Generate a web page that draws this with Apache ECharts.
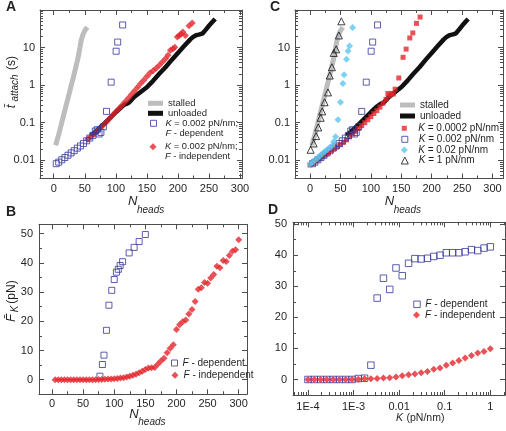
<!DOCTYPE html>
<html>
<head>
<meta charset="utf-8">
<script src="https://cdn.jsdelivr.net/npm/echarts@6.0.0/dist/echarts.min.js"></script>
<style>
html,body{margin:0;padding:0;background:#ffffff;}
#chart{width:506px;height:431px;}
</style>
</head>
<body>
<div id="chart"></div>
<script>
// ================= DATA =================
// Panels A & C : mean attachment time t_attach (s) vs N_heads
const stalledN  = [3, 8, 12, 16, 20, 24, 28, 32, 36, 40, 44, 47, 50, 54];
const stalledT  = [0.025, 0.048, 0.088, 0.16, 0.29, 0.52, 0.95, 1.7, 3.2, 6.2, 15, 22, 28, 35];

const unloadedN = [60, 70, 80, 90, 100, 110, 115, 120, 125, 130, 140, 150, 160, 170, 180, 190, 200, 210, 220, 225, 230, 235, 240, 245, 250, 255, 260];
const unloadedT = [0.045, 0.063, 0.09, 0.13, 0.19, 0.27, 0.31, 0.33, 0.40, 0.49, 0.66, 0.88, 1.3, 2.0, 3.0, 4.7, 7.2, 11, 16.5, 19.5, 21.5, 22.5, 24, 30, 38, 47, 58];

// K = 0.002 pN/nm, F-dependent (A and C)
const depN = [4, 8, 13, 18, 23, 28, 33, 38, 43, 48, 53, 58, 63, 67, 70, 73, 76, 80, 85, 92.5, 100.5, 103, 111];
const depT = [0.0081, 0.0089, 0.0103, 0.0118, 0.0136, 0.0157, 0.018, 0.021, 0.024, 0.028, 0.033, 0.039, 0.046, 0.06, 0.065, 0.05, 0.055, 0.078, 0.2, 1.2, 8, 14, 40];

// K = 0.002 pN/nm, F-independent (A)
const indepN = [55, 60, 65, 70, 75, 80, 85, 90, 95, 100, 105, 110, 115, 120, 125, 130, 135, 140, 145, 150, 155, 160, 165, 170, 175, 180, 184, 188, 192, 195, 199, 202, 205, 208, 212, 218, 223];
const indepT = [0.036, 0.042, 0.05, 0.06, 0.072, 0.087, 0.105, 0.13, 0.16, 0.195, 0.24, 0.29, 0.36, 0.45, 0.56, 0.7, 0.88, 1.1, 1.35, 1.7, 2.1, 2.4, 2.8, 3.4, 4.1, 5.0, 6.2, 8.5, 9.3, 10.2, 19, 21, 23, 26, 21, 38, 45];

// C : K = 0.0002 pN/nm
const k0002N = [0, 3, 6, 9, 12, 15, 18, 21, 24, 27, 30, 35, 40, 45, 50, 55, 60, 65, 70, 75, 80, 85, 90, 95, 100, 105, 110, 115, 120, 125, 128, 131, 134, 137, 140, 146, 153, 158, 164, 169, 175, 181];
const k0002T = [0.0075, 0.0081, 0.0088, 0.0095, 0.0103, 0.011, 0.0119, 0.0128, 0.0138, 0.0149, 0.016, 0.0182, 0.0205, 0.023, 0.026, 0.03, 0.035, 0.042, 0.05, 0.059, 0.07, 0.084, 0.1, 0.12, 0.145, 0.175, 0.21, 0.26, 0.33, 0.42, 0.6, 0.52, 0.6, 0.58, 0.78, 1.55, 5.5, 9.1, 18, 24.5, 44, 65];

// C : K = 0.02 pN/nm
const k002N = [0, 4, 8, 12, 16, 20, 24, 28, 32, 36, 39, 42, 46, 50, 54, 56, 60, 62.5, 65, 70];
const k002T = [0.0078, 0.0088, 0.0100, 0.0114, 0.013, 0.0148, 0.0168, 0.019, 0.0215, 0.0245, 0.031, 0.042, 0.12, 0.35, 1.1, 1.9, 4.9, 8.1, 11, 34];

// C : K = 1 pN/nm
const k1N = [1, 6, 10, 13.5, 17.5, 20, 24, 29.5, 32.5, 36, 39, 43, 47.5, 51.5];
const k1T = [0.019, 0.028, 0.044, 0.075, 0.135, 0.2, 0.35, 0.64, 1.8, 3.0, 7.2, 9.0, 21, 50];

// Panel B : mean force F_K (pN) vs N_heads
const bDepN = [77, 81, 83.5, 87.5, 91.5, 96, 100, 103.5, 106.5, 109.5, 113.5, 124, 132, 140, 150];
const bDepF = [1.2, 5.2, 8.4, 16.9, 25.5, 30.6, 34.3, 36.8, 37.8, 39.1, 40.4, 43.4, 45.3, 47.3, 49.7];

const bIndepN = [5, 10, 15, 20, 25, 30, 35, 40, 45, 50, 55, 60, 65, 70, 75, 80, 85, 90, 95, 100,
                 105, 110, 115, 120, 125, 130, 135, 140, 145, 150, 155, 160, 165, 170, 175, 180, 185, 190, 195, 200,
                 205, 210, 215, 220, 225, 230, 235, 240, 245, 250, 255, 260, 265, 270, 275, 280, 285, 290, 295, 300];
const bIndepF = [0, 0, 0, 0, 0, 0, 0, 0, 0, 0, 0, 0, 0, 0, 0.05, 0.1, 0.15, 0.2, 0.25, 0.35,
                 0.45, 0.55, 0.7, 0.9, 1.2, 1.5, 1.9, 2.4, 2.9, 3.5, 4.0, 4.1, 4.2, 5.3, 6.4, 7.3, 9.2, 10.8, 12.0, 17.2,
                 18.8, 19.8, 20.4, 22.5, 24.0, 26.8, 31.0, 31.5, 33.3, 33.0, 34.8, 36.0, 38.8, 38.3, 40.8, 40.5, 42.5, 44.0, 44.5, 47.9];

// Panel D : mean force vs stiffness K (pN/nm)
const kValues = [1.0e-4, 1.37e-4, 1.89e-4, 2.59e-4, 3.56e-4, 4.89e-4, 6.72e-4, 9.24e-4, 1.27e-3, 1.74e-3,
                 2.40e-3, 3.29e-3, 4.52e-3, 6.21e-3, 8.53e-3, 0.0117, 0.0161, 0.0221, 0.0304, 0.0418,
                 0.0574, 0.0788, 0.108, 0.149, 0.204, 0.281, 0.386, 0.530, 0.728, 1.0];
const dDepF   = [0, 0, 0, 0, 0, 0, 0, 0, 0.3, 0.4, 4.6, 26.2, 32.6, 29.0, 35.9, 33.4, 37.4, 38.9, 38.8, 39.0,
                 39.6, 40.0, 40.8, 40.8, 40.8, 41.1, 41.8, 41.5, 42.3, 42.7];
const dIndepF = [0, 0, 0, 0, 0, 0, 0, 0, 0.1, 0.2, 0.25, 0.3, 0.5, 0.55, 0.8, 1.2, 1.5, 1.8, 2.2, 2.6,
                 3.3, 3.7, 4.6, 5.3, 6.1, 6.9, 7.7, 8.5, 9.0, 9.9];

// Tick values / labels
const nLabels = [0, 50, 100, 150, 200, 250, 300];
const nMinor  = [25, 75, 125, 175, 225, 275];
const fLabels = [0, 10, 20, 30, 40, 50];
const fMinor  = [5, 15, 25, 35, 45];
const tLabels = [0.01, 0.1, 1, 10];
const kLabels = [1e-4, 1e-3, 0.01, 0.1, 1];

// ================= STYLE =================
const FONT = '"Liberation Sans", Arial, Helvetica, sans-serif';
const TXT = '#231f20';
const AXC = '#4d4d4d';
const GRAY = '#bdbdbd';
const BLACK = '#111111';
const BLUE = '#36369a';
const RED = '#e3262c';
const CYAN = '#5cc5ee';
const HOLLOW = 'rgba(255,255,255,0)';

function zip(a, b) { return a.map((v, i) => [v, b[i]]); }
function decadeMinors(lo, hi) {
  const out = [];
  for (let e = lo; e <= hi; e++) for (let m = 2; m <= 9; m++) out.push(+(m * Math.pow(10, e)).toPrecision(3));
  return out;
}
const numFmt = v => String(+Number(v).toPrecision(3));
const kFmt = v => (v < 0.005 ? '1E' + Math.round(Math.log10(v)) : String(+Number(v).toPrecision(3)));

function makeAxes(dim, grid, type, min, max, majors, minors, labels, fmt, margin) {
  const pos = dim === 'x' ? ['bottom', 'top'] : ['left', 'right'];
  const mk = (p, ticks, len, line, lab) => {
    const a = {
      type: type, gridIndex: grid, min: min, max: max, position: p, silent: true,
      splitLine: { show: false },
      axisLine: { show: line, onZero: false, lineStyle: { color: AXC, width: 1 } },
      axisTick: { show: true, inside: true, length: len, customValues: ticks, lineStyle: { color: AXC, width: 1 } },
      axisLabel: lab ? { show: true, customValues: labels, formatter: fmt, margin: margin, fontSize: 11, color: TXT, fontFamily: FONT } : { show: false }
    };
    if (type === 'log') a.logBase = 10;
    return a;
  };
  return [mk(pos[0], majors, 5, true, true), mk(pos[1], majors, 5, true, false),
          mk(pos[0], minors, 3, false, false), mk(pos[1], minors, 3, false, false)];
}

const tMinor = decadeMinors(-3, 1);
const kMinor = decadeMinors(-5, 0);

const xAxis = [].concat(
  makeAxes('x', 0, 'value', -22.1, 303.2, nLabels, nMinor, nLabels, numFmt, 5),
  makeAxes('x', 1, 'value', -20.9, 313.4, nLabels, nMinor, nLabels, numFmt, 4),
  makeAxes('x', 2, 'value', -24.7, 317.3, nLabels, nMinor, nLabels, numFmt, 5),
  makeAxes('x', 3, 'log', 4.69e-5, 2.10, kLabels, kMinor, kLabels, kFmt, 6)
);
const yAxis = [].concat(
  makeAxes('y', 0, 'log', 0.00327, 100, tLabels, tMinor, tLabels, numFmt, 5),
  makeAxes('y', 1, 'value', -5, 53.2, fLabels, fMinor, fLabels, numFmt, 6),
  makeAxes('y', 2, 'log', 0.00327, 100, tLabels, tMinor, tLabels, numFmt, 5),
  makeAxes('y', 3, 'value', -5, 50.6, fLabels, fMinor, fLabels, numFmt, 6)
);

const grid = [
  { left: 40, top: 10, width: 202, height: 168.5 },
  { left: 39, top: 224.3, width: 208, height: 170 },
  { left: 295, top: 10, width: 208, height: 168.5 },
  { left: 293, top: 222.3, width: 212, height: 172.7 }
];

function onGrid(g) { return { xAxisIndex: g * 4, yAxisIndex: g * 4 }; }
function lineSeries(name, g, xs, ys, color, width, z) {
  return Object.assign({ name: name, type: 'line', data: zip(xs, ys), symbol: 'none', showSymbol: false,
    lineStyle: { color: color, width: width, cap: 'butt', join: 'round' }, itemStyle: { color: color }, z: z, silent: true }, onGrid(g));
}
function scatterSeries(name, g, xs, ys, symbol, size, style, z) {
  return Object.assign({ name: name, type: 'scatter', data: zip(xs, ys), symbol: symbol, symbolSize: size,
    itemStyle: style, z: z, silent: true }, onGrid(g));
}
const hollow = c => ({ color: HOLLOW, borderColor: c, borderWidth: 1 });
const filled = c => ({ color: c, borderWidth: 0 });

const series = [
  // A
  lineSeries('A-stalled', 0, stalledN, stalledT, GRAY, 5, 2),
  lineSeries('A-unloaded', 0, unloadedN, unloadedT, BLACK, 4.5, 2),
  scatterSeries('A-indep', 0, indepN, indepT, 'diamond', 7, filled(RED), 3),
  scatterSeries('A-dep', 0, depN, depT, 'rect', 6, hollow(BLUE), 4),
  // B
  scatterSeries('B-dep', 1, bDepN, bDepF, 'rect', 6, hollow(BLUE), 3),
  scatterSeries('B-indep', 1, bIndepN, bIndepF, 'diamond', 7, filled(RED), 4),
  // C
  lineSeries('C-stalled', 2, stalledN, stalledT, GRAY, 5, 2),
  lineSeries('C-unloaded', 2, unloadedN, unloadedT, BLACK, 4.5, 2),
  scatterSeries('C-k0002', 2, k0002N, k0002T, 'rect', 5, filled(RED), 3),
  scatterSeries('C-dep', 2, depN, depT, 'rect', 6, hollow(BLUE), 4),
  scatterSeries('C-k002', 2, k002N, k002T, 'diamond', 7, filled(CYAN), 5),
  scatterSeries('C-k1', 2, k1N, k1T, 'triangle', 7, hollow(BLACK), 6),
  // D
  scatterSeries('D-dep', 3, kValues, dDepF, 'rect', 6.5, hollow(BLUE), 3),
  scatterSeries('D-indep', 3, kValues, dIndepF, 'diamond', 7, filled(RED), 4)
];

// ================= LEGENDS =================
const LABELS = {
  'A-stalled': 'stalled',
  'A-unloaded': 'unloaded',
  'A-dep': '\n{i|K} = 0.002 pN/nm;\n{i|F} - dependent',
  'A-indep': '\n{i|K} = 0.002 pN/nm;\n{i|F} - independent',
  'C-stalled': 'stalled',
  'C-unloaded': 'unloaded',
  'C-k0002': '{i|K} = 0.0002 pN/nm',
  'C-dep': '{i|K} = 0.002 pN/nm',
  'C-k002': '{i|K} = 0.02 pN/nm',
  'C-k1': '{i|K} = 1 pN/nm',
  'B-dep': '{i|F} - dependent',
  'B-indep': '{i|F} - independent',
  'D-dep': '{i|F} - dependent',
  'D-indep': '{i|F} - independent'
};
const LH = 10;
function leg(name, left, cy, iw, ih, padLeft, lines, icon, bw, fs) {
  fs = fs || 10;
  const blockH = lines * LH;
  const top = cy - Math.max(ih, blockH) / 2;
  const d = icon ? { name: name, icon: icon } : { name: name };
  return {
    data: [d], left: left, top: top, orient: 'vertical', padding: 0, itemGap: 0,
    itemWidth: iw, itemHeight: ih, selectedMode: false,
    itemStyle: { borderWidth: bw },
    formatter: n => LABELS[n],
    textStyle: { fontSize: fs, color: TXT, fontFamily: FONT, lineHeight: LH, padding: [0, 0, 0, padLeft],
      rich: { i: { fontStyle: 'italic', fontSize: fs, color: TXT, fontFamily: FONT, lineHeight: LH } } }
  };
}
const legend = [
  leg('A-stalled', 148, 103.3, 15, 5, 0, 1, 'rect', 0, 9.5),
  leg('A-unloaded', 148, 113.3, 15, 5, 0, 1, 'rect', 0, 9.5),
  leg('A-dep', 150, 123.3, 6, 6, 4, 3, null, 1, 9.3),
  leg('A-indep', 149.5, 146.7, 7, 7, 3.5, 3, null, 0, 9.3),
  leg('C-stalled', 400, 105, 15, 5, 0, 1, 'rect', 0),
  leg('C-unloaded', 400, 116, 15, 5, 0, 1, 'rect', 0),
  leg('C-k0002', 401.8, 128.3, 5, 5, 6.5, 1, null, 0),
  leg('C-dep', 401.3, 139.3, 6, 6, 6, 1, null, 1),
  leg('C-k002', 400.8, 150, 7, 7, 5.5, 1, null, 0),
  leg('C-k1', 400.8, 160.5, 7, 7, 5.5, 1, null, 1),
  leg('B-dep', 171, 363, 6, 6, 0, 1, null, 1),
  leg('B-indep', 171.5, 375.3, 7, 7, 0, 1, null, 0),
  leg('D-dep', 413.25, 304.3, 6.5, 6.5, 0, 1, null, 1),
  leg('D-indep', 413, 315, 7, 7, 0, 1, null, 0)
];

// ================= TEXT (panel letters, axis titles) =================
function txt(text, x, y, size, o) {
  o = o || {};
  const font = (o.italic ? 'italic ' : '') + (o.bold ? 'bold ' : '') + size + 'px ' + FONT;
  return { type: 'text', x: x, y: y, rotation: o.rot || 0, silent: true, z: 100,
    style: { text: text, fill: TXT, font: font, align: o.align || 'left', verticalAlign: 'middle',
             textAlign: o.align || 'left', textVerticalAlign: 'middle' } };
}
const ROT = Math.PI / 2;
const graphic = [
  txt('A', 6, 7, 14, { bold: true }),
  txt('B', 6, 212, 14, { bold: true }),
  txt('C', 270, 7.5, 14, { bold: true }),
  txt('D', 268, 210, 14, { bold: true }),
  // A x title
  txt('N', 128, 201.5, 13, { italic: true }),
  txt('heads', 137, 210, 10, { italic: true }),
  // C x title
  txt('N', 384.7, 201.5, 13, { italic: true }),
  txt('heads', 393.7, 210, 10, { italic: true }),
  // B x title
  txt('N', 129.3, 414, 13, { italic: true }),
  txt('heads', 138.3, 422.5, 10, { italic: true }),
  // D x title
  txt('K', 396, 417.7, 10.5, { italic: true }),
  txt('(pN/nm)', 406.5, 417.7, 10.5, {}),
  // A y title
  txt('t\u0304', 11, 106.5, 13, { italic: true, rot: ROT, align: 'center' }),
  txt('attach', 15.5, 88, 10, { italic: true, rot: ROT, align: 'center' }),
  txt('(s)', 11.5, 63, 12, { rot: ROT, align: 'center' }),
  // B y title
  txt('F\u0304', 11, 318, 13, { italic: true, rot: ROT, align: 'center' }),
  txt('K', 15.5, 309, 10, { italic: true, rot: ROT, align: 'center' }),
  txt('(pN)', 11.5, 292, 12, { rot: ROT, align: 'center' })
];

const chart = echarts.init(document.getElementById('chart'), null, { renderer: 'canvas', devicePixelRatio: 1 });
chart.setOption({
  animation: false,
  backgroundColor: '#ffffff',
  textStyle: { fontFamily: FONT },
  grid: grid,
  xAxis: xAxis,
  yAxis: yAxis,
  legend: legend,
  series: series,
  graphic: graphic
});
</script>
</body>
</html>
